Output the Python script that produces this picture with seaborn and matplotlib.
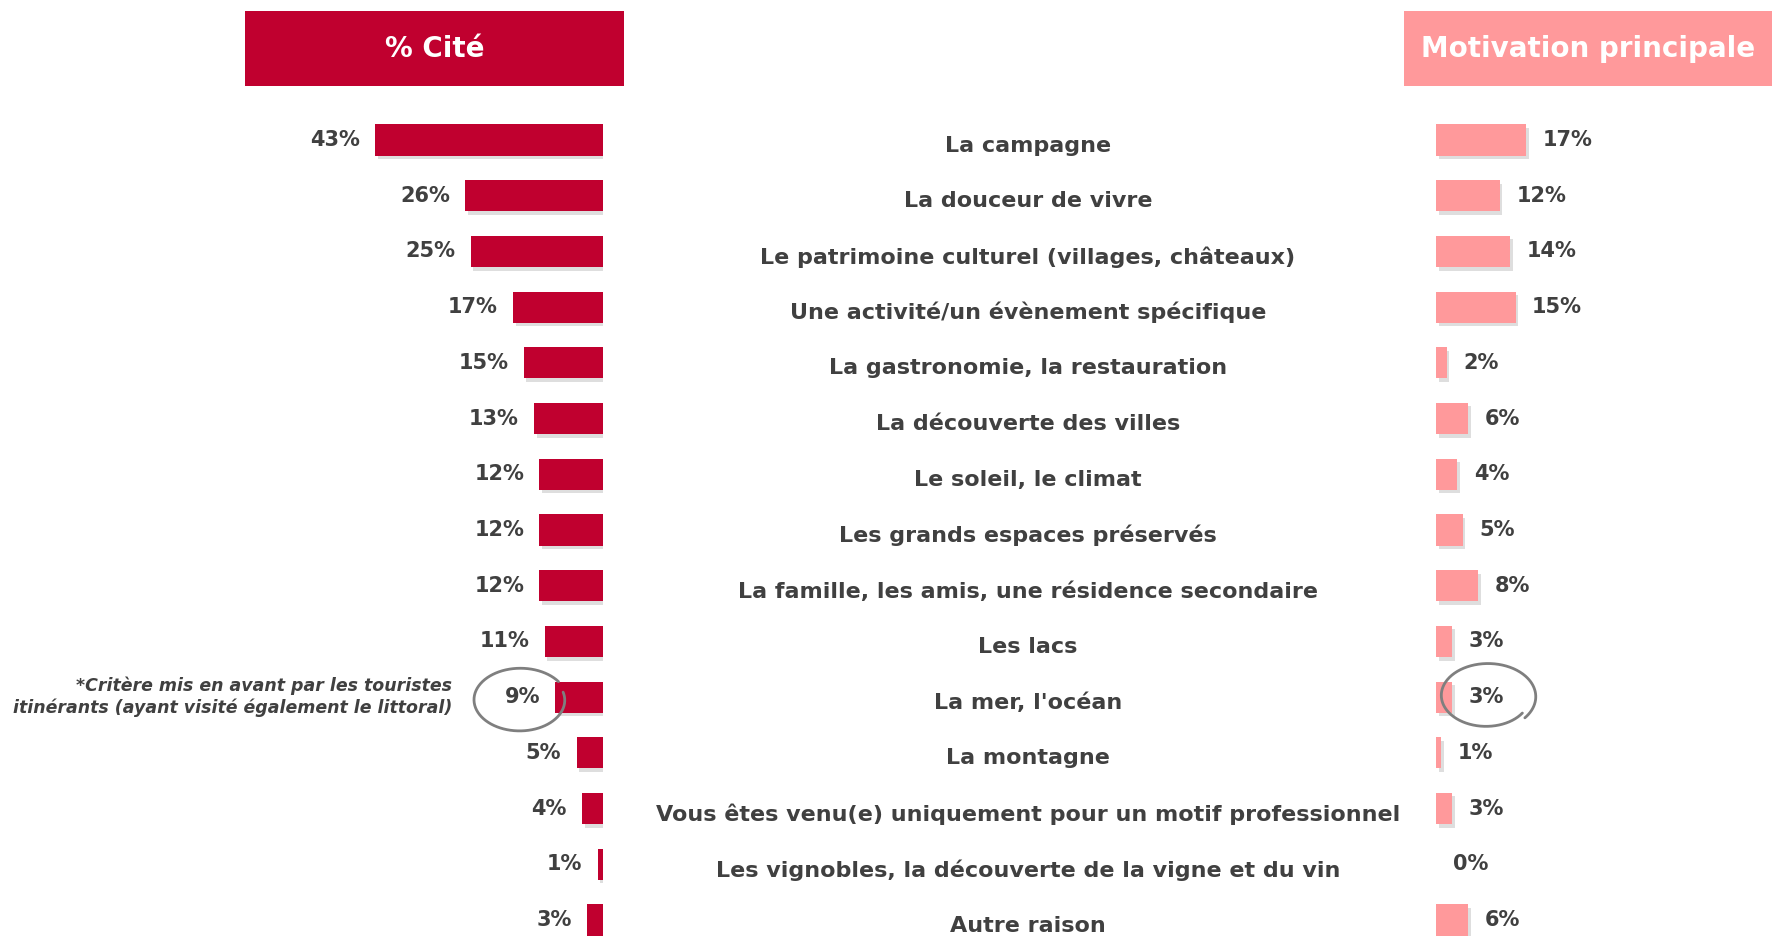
import matplotlib
matplotlib.use("Agg")
import matplotlib.pyplot as plt
import matplotlib.patheffects as pe
from matplotlib.patches import Rectangle
from matplotlib.transforms import blended_transform_factory
import seaborn as sns
import pandas as pd
import numpy as np

categories = [
    "La campagne",
    "La douceur de vivre",
    "Le patrimoine culturel (villages, châteaux)",
    "Une activité/un évènement spécifique",
    "La gastronomie, la restauration",
    "La découverte des villes",
    "Le soleil, le climat",
    "Les grands espaces préservés",
    "La famille, les amis, une résidence secondaire",
    "Les lacs",
    "La mer, l'océan",
    "La montagne",
    "Vous êtes venu(e) uniquement pour un motif professionnel",
    "Les vignobles, la découverte de la vigne et du vin",
    "Autre raison",
]
pct_cite = [43, 26, 25, 17, 15, 13, 12, 12, 12, 11, 9, 5, 4, 1, 3]
motivation = [17, 12, 14, 15, 2, 6, 4, 5, 8, 3, 3, 1, 3, 0, 6]
header_left = "% Cité"
header_right = "Motivation principale"
footnote = "*Critère mis en avant par les touristes\nitinérants (ayant visité également le littoral)"

df = pd.DataFrame({"cat": categories, "cite": pct_cite, "motiv": motivation})

sns.set_theme(style="white")
plt.rcParams["font.family"] = ["DejaVu Sans"]

W, H = 1772, 936
fig = plt.figure(figsize=(W / 100, H / 100), dpi=100)
fig.patch.set_facecolor("white")

RED = "#C0002F"
PINK = "#FF999B"
TXT = "#404040"
PXPCT = 5.3
row0, rowN = 140, 920
n = len(categories)
sp = (rowN - row0) / (n - 1)
top_px = row0 - sp / 2
bot_px = rowN + sp / 2
ay = 1 - bot_px / H
ah = (bot_px - top_px) / H

left_edge = 603
axL = fig.add_axes([0, ay, left_edge / W, ah])
axR_x0 = 1436
axR = fig.add_axes([axR_x0 / W, ay, (W - axR_x0) / W, ah])

shadow = [pe.SimplePatchShadow(offset=(2, -2.5), shadow_rgbFace="#000000", alpha=0.13), pe.Normal()]

sns.barplot(data=df, x="cite", y="cat", orient="h", color=RED, width=0.56,
            saturation=1, ax=axL, edgecolor="none")
sns.barplot(data=df, x="motiv", y="cat", orient="h", color=PINK, width=0.56,
            saturation=1, ax=axR, edgecolor="none")
for ax in (axL, axR):
    for p in ax.patches:
        p.set_path_effects(shadow)

axL.set_xlim(left_edge / PXPCT, 0)
axR.set_xlim(0, (W - axR_x0) / PXPCT)
for ax in (axL, axR):
    ax.set_ylim(n - 0.5, -0.5)
    ax.axis("off")

fs_val = 15
for i, v in enumerate(pct_cite):
    axL.annotate(f"{v}%", xy=(v, i), xytext=(-11, 0), textcoords="offset points",
                 ha="right", va="center", fontsize=fs_val, fontweight="bold", color=TXT)
for i, v in enumerate(motivation):
    axR.annotate(f"{v}%", xy=(v, i), xytext=(12, 0), textcoords="offset points",
                 ha="left", va="center", fontsize=fs_val, fontweight="bold", color=TXT)

trans = blended_transform_factory(fig.transFigure, axL.transData)
for i, c in enumerate(categories):
    fig.text(1028 / W, i + 0.1, c, transform=trans, ha="center", va="center",
             fontsize=16, fontweight="bold", color=TXT)

# headers
fig.patches.append(Rectangle((245 / W, 1 - 86 / H), (624 - 245) / W, 75 / H,
                             transform=fig.transFigure, facecolor=RED, edgecolor="none"))
fig.patches.append(Rectangle((1404 / W, 1 - 86 / H), (W - 1404) / W, 75 / H,
                             transform=fig.transFigure, facecolor=PINK, edgecolor="none"))
fig.text((245 + 624) / 2 / W, 1 - 49 / H, header_left, ha="center", va="center",
         fontsize=20, fontweight="bold", color="white")
fig.text((1404 + W) / 2 / W, 1 - 49 / H, header_right, ha="center", va="center",
         fontsize=20, fontweight="bold", color="white")

# footnote
fig.text(452 / W, 10, footnote, transform=trans, ha="right", va="center",
         fontsize=12.5, fontweight="bold", fontstyle="italic", color=TXT, linespacing=1.25)

# hand-drawn circles on a pixel-coordinate overlay
ov = fig.add_axes([0, 0, 1, 1], zorder=5)
ov.set_xlim(0, W)
ov.set_ylim(H, 0)
ov.axis("off")
ov.patch.set_alpha(0)


def hand_ellipse(cx, cy, a, b, t0, t1, r0, r1):
    t = np.radians(np.linspace(t0, t1, 300))
    r = np.linspace(r0, r1, t.size)
    ov.plot(cx + a * r * np.cos(t), cy - b * r * np.sin(t), color="#7f7f7f", lw=2,
            solid_capstyle="round")


hand_ellipse(520, 700, 47, 32, 35, 375, 1.0, 0.95)
hand_ellipse(1487, 696, 48, 33, -40, 325, 1.03, 0.9)

fig.savefig("out.png", dpi=100, facecolor="white")
